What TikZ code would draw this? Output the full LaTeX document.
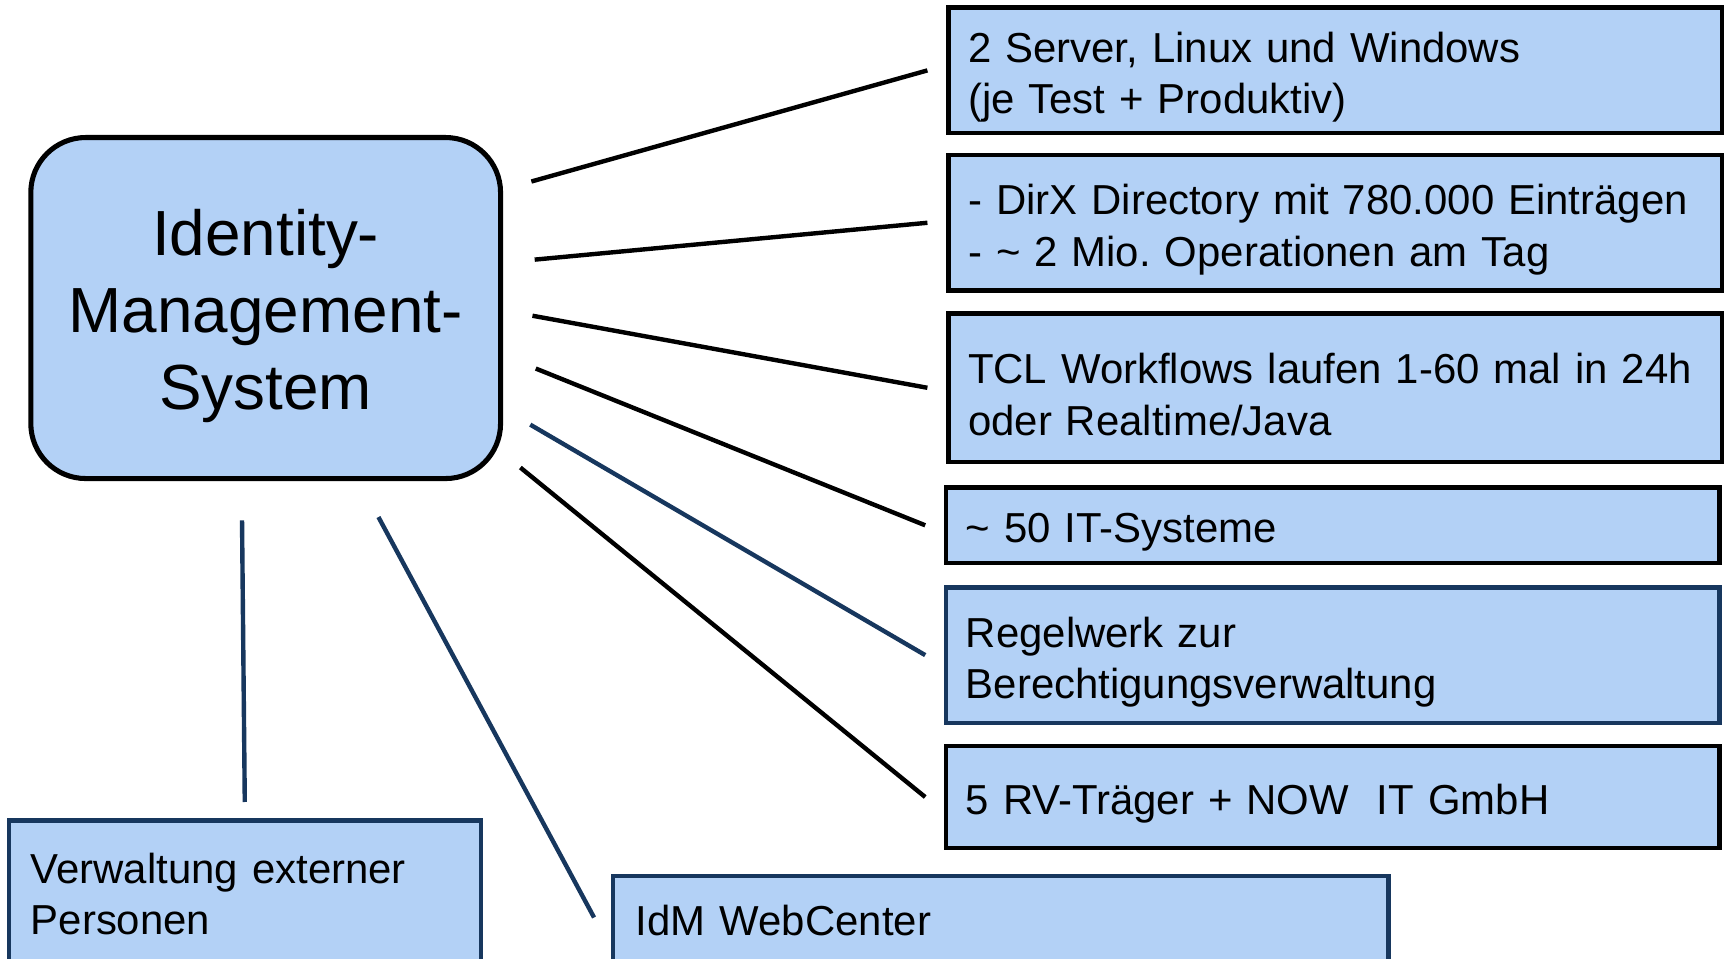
\documentclass[tikz,border=0pt]{standalone}
\usepackage{fontspec}
\setmainfont{Liberation Sans}
\usetikzlibrary{calc}
\definecolor{idmfill}{RGB}{179,209,246}
\definecolor{idmblue}{RGB}{23,55,94}
\frenchspacing
\begin{document}
\begin{tikzpicture}[x=0.5pt,y=-0.5pt,
	infobox/.style={draw=black, line width=2pt, fill=idmfill, outer sep=0pt,
		anchor=north west, minimum width=351.5pt, inner xsep=9pt,
		text width=333.5pt, text height=20pt, align=left,
		font=\fontsize{19.05}{23.3}\selectfont},
	bluebox/.style={infobox, draw=idmblue},
	link/.style={line width=2pt}]
\useasboundingbox (0,0) rectangle (1568,871);

% central system
\node[draw=black, line width=2.3pt, fill=idmfill, rounded corners=25pt, outer sep=0pt,
	anchor=north west, minimum width=213.5pt, minimum height=155pt, inner xsep=0pt,
	text width=213.5pt, text height=28pt, align=center,
	font=\fontsize{29}{35}\selectfont] (ims) at (28,125)
	{Identity-\\Management-\\System};

% right column
\node[infobox, minimum height=57pt] (server) at (862,7)
	{2 Server, Linux und Windows\\(je Test + Produktiv)};
\node[infobox, minimum height=61.5pt] (dirx) at (862,141)
	{- DirX Directory mit 780.000 Eintr\"agen\\- \textasciitilde{} 2 Mio. Operationen am Tag};
\node[infobox, minimum height=67.5pt] (tcl) at (862,285)
	{TCL Workflows laufen 1-60 mal in 24h\\oder Realtime/Java};
\node[infobox, minimum height=34.5pt] (systeme) at (860,443)
	{\textasciitilde{} 50 IT-Systeme};
\node[bluebox, minimum height=61.5pt] (regel) at (860,534)
	{Regelwerk zur\\Berechtigungsverwaltung};
\node[infobox, minimum height=46.5pt] (traeger) at (860,678)
	{5 RV-Tr\"ager + NOW\ \ IT GmbH};

% bottom row, running off the page
\node[bluebox, minimum width=214.5pt, inner xsep=10pt, text width=194.5pt,
	text height=25pt, text depth=45pt] (extern) at (8,746)
	{Verwaltung externer\\Personen};
\node[bluebox, minimum width=352.5pt, inner xsep=10.5pt, text width=331.5pt,
	text height=23.7pt, text depth=30pt] (webcenter) at (557,796)
	{IdM WebCenter};

% connectors
\foreach \target/\dx/\dy/\col in {server/28/40/black, dirx/31/111/black,
		tcl/29/162/black, systeme/32/210/black, regel/27/261/idmblue,
		traeger/18/300/black}
	\draw[link, draw=\col] ($(ims.north east)+(\dx,\dy)$) -- ($(\target.west)+(-19,0)$);
\draw[link, idmblue] ($(ims.south)+(-21.5,38)$) -- ($(extern.north)+(0,-17)$);
\draw[link, idmblue] ($(ims.south)+(102.5,35)$) -- ($(webcenter.north west)+(-17,38)$);
\end{tikzpicture}
\end{document}
